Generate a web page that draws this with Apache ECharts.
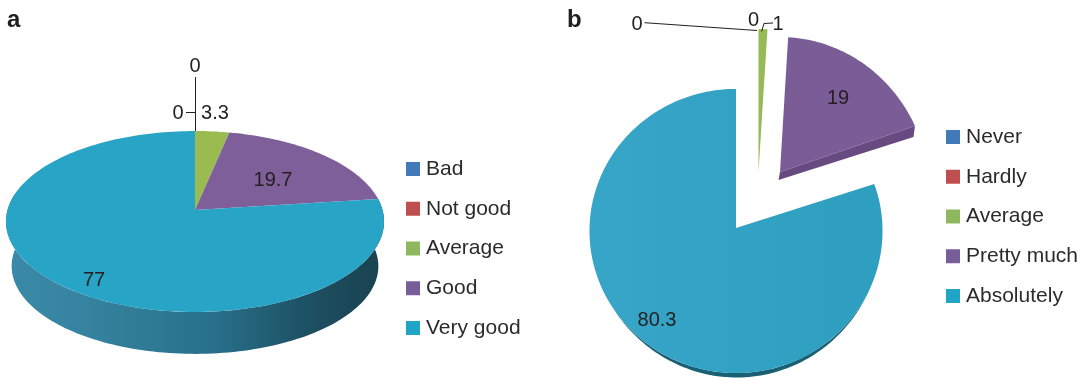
<!DOCTYPE html>
<html>
<head>
<meta charset="utf-8">
<style>html,body{margin:0;padding:0;background:#fff}#c{width:1089px;height:378px}</style>
<script src="https://cdn.jsdelivr.net/npm/echarts@6/dist/echarts.min.js"></script>
</head>
<body>
<div id="c"></div>
<script>
// ---- data ----
var categoriesA = ['Bad', 'Not good', 'Average', 'Good', 'Very good'];
var valuesA = [0, 0, 3.3, 19.7, 77];
var categoriesB = ['Never', 'Hardly', 'Average', 'Pretty much', 'Absolutely'];
var valuesB = [0, 0, 1, 19, 80.3];

// ---- style / layout ----
var FONT = '"Liberation Sans", Arial, Helvetica, sans-serif';
var legendColors = ['#4279b8', '#bf4f4f', '#8eb85e', '#775d9a', '#1ea6c4'];
var faceColorsA = ['#4279b8', '#bf4f4f', '#9abb50', '#7f5f99', '#27a4c6'];
var faceColorsB = ['#4279b8', '#bf4f4f', '#96ba55', '#7a5c96',
  {type: 'linear', x: 0, y: 0, x2: 1, y2: 0, colorStops: [{offset: 0, color: '#37a5c7'}, {offset: 1, color: '#2e9fc0'}]}];

// a, b: half axes; k: perspective strength; apex: slice tip on the page.
var pieA = {a: 187.5, b: 89, k: 0.127, apex: [195, 210]};
var pieB = {a: 146.5, b: 142, k: 0.021, apex: [736, 228]};

var slicesA = [
  {label: [195, 66], leader: [[195.5, 77], [195.5, 131]]},
  {label: [178, 113], leader: [[186, 112.5], [195, 112.5]]},
  {label: [215, 113]},
  {label: [273, 180]},
  {label: [94, 280], side: {from: 82.8, to: 281, scale: 0.97, dy: 45,
    fill: {type: 'linear', x: 0, y: 0, x2: 1, y2: 0, colorStops: [
      {offset: 0, color: '#3a89a8'}, {offset: 0.22, color: '#35839f'},
      {offset: 0.55, color: '#28708a'}, {offset: 0.8, color: '#1d5063'}, {offset: 1, color: '#19424f'}]}}}
];
var slicesB = [
  {label: [637, 24], leader: [[644.5, 22.7], [757, 30.5]]},
  {label: [753.5, 20]},
  {label: [778, 24], leader: [[773, 23], [764, 23.5], [761.7, 31.5]], apex: [758.5, 172], b: 146},
  {label: [838, 98], apex: [780, 172], a: 148.3, b: 153.9, k: 0.14, edge: {dy0: 8, dy1: 11, dx: -1.5, fill: '#664a80'}},
  {label: [657, 320], side: {from: 115, to: 235, scale: 1, dy: 4.5, taper: true, fill: '#1a6075'}}
];

function rim(p, apex, theta, scale) {
  var t = theta * Math.PI / 180;
  var X = Math.sin(t), Y = -Math.cos(t);
  var w = 1 - p.k * Y;
  return [apex[0] + scale * p.a * X / w, apex[1] + scale * p.b * Y / w];
}
function arc(p, apex, from, to, scale, taper) {
  var pts = [], n = Math.max(2, Math.ceil(Math.abs(to - from) / 1.5));
  for (var i = 0; i <= n; i++) {
    var pt = rim(p, apex, from + (to - from) * i / n, scale);
    if (taper) pt[1] += taper * Math.sin(Math.PI * i / n);
    pts.push(pt);
  }
  return pts;
}

function makeSeries(name, value, idx, values, slice, pie, faces) {
  var total = values.reduce(function (s, v) { return s + v; }, 0);
  var before = values.slice(0, idx).reduce(function (s, v) { return s + v; }, 0);
  return {
    type: 'custom',
    name: name,
    coordinateSystem: 'none',
    silent: true,
    itemStyle: {color: legendColors[idx]},
    data: [[value]],
    renderItem: function (params, api) {
      var v = api.value(0);
      var start = before / total * 360, end = (before + v) / total * 360;
      var p = {a: slice.a || pie.a, b: slice.b || pie.b, k: slice.k || pie.k};
      var apex = slice.apex || pie.apex;
      var kids = [];
      if (slice.side) {
        var sd = slice.side;
        var top = arc(p, apex, sd.from, sd.to, 1);
        var low = sd.taper
          ? arc(p, apex, sd.to, sd.from, sd.scale, sd.dy)
          : arc(p, [apex[0], apex[1] + sd.dy], sd.to, sd.from, sd.scale);
        kids.push({type: 'polygon', shape: {points: top.concat(low)}, style: {fill: sd.fill}});
      }
      if (slice.edge) {
        var e = rim(p, apex, end, 1), ed = slice.edge;
        kids.push({type: 'polygon', shape: {points: [apex, e, [e[0] + ed.dx, e[1] + ed.dy1], [apex[0] + ed.dx, apex[1] + ed.dy0]]},
          style: {fill: ed.fill}});
      }
      if (v > 0) {
        kids.push({type: 'polygon', shape: {points: [apex].concat(arc(p, apex, start, end, 1))},
          style: {fill: faces[idx]}});
      }
      if (slice.leader) {
        kids.push({type: 'polyline', z2: 5, shape: {points: slice.leader},
          style: {stroke: '#231f20', lineWidth: 1, fill: null}});
      }
      kids.push({type: 'text', z2: 10, x: slice.label[0], y: slice.label[1],
        style: {text: String(v), fill: '#231f20', font: '20px ' + FONT, align: 'center', verticalAlign: 'middle'}});
      return {type: 'group', children: kids};
    }
  };
}

var series = [];
categoriesA.forEach(function (c, i) { series.push(makeSeries(c, valuesA[i], i, valuesA, slicesA[i], pieA, faceColorsA)); });
categoriesB.forEach(function (c, i) { series.push(makeSeries(c, valuesB[i], i, valuesB, slicesB[i], pieB, faceColorsB)); });

function makeLegend(cats, left, top) {
  return {
    orient: 'vertical', left: left, top: top, itemWidth: 14, itemHeight: 14, itemGap: 11.75,
    padding: 0, selectedMode: false, icon: 'rect',
    textStyle: {fontFamily: FONT, fontSize: 21, color: '#2b2b2b', lineHeight: 24, padding: [4, 0, 0, 1]},
    data: cats.map(function (c, i) { return {name: c, itemStyle: {color: legendColors[i], borderWidth: 0}}; })
  };
}

var chart = echarts.init(document.getElementById('c'), null, {renderer: 'canvas'});
chart.setOption({
  animation: false,
  backgroundColor: '#ffffff',
  title: [
    {text: 'a', left: 7, top: 8, padding: 0, textStyle: {fontFamily: FONT, fontSize: 24, fontWeight: 'bold', color: '#231f20'}},
    {text: 'b', left: 567, top: 8, padding: 0, textStyle: {fontFamily: FONT, fontSize: 24, fontWeight: 'bold', color: '#231f20'}}
  ],
  tooltip: {show: false},
  legend: [makeLegend(categoriesA, 406, 155), makeLegend(categoriesB, 946, 123)],
  series: series
});
</script>
</body>
</html>
